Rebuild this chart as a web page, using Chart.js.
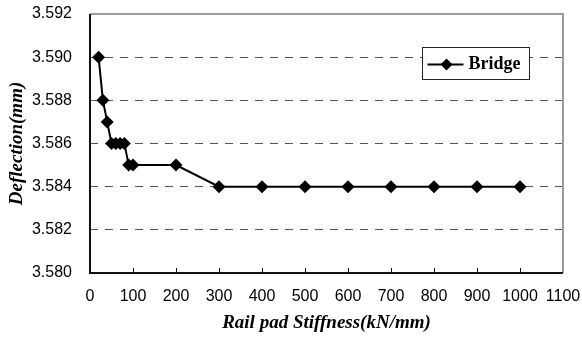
<!DOCTYPE html>
<html>
<head>
<meta charset="utf-8">
<script src="https://cdn.jsdelivr.net/npm/chart.js@4/dist/chart.umd.min.js"></script>
<style>
  html, body { margin: 0; padding: 0; background: #fff; }
  #wrap { width: 582px; height: 338px; }
</style>
</head>
<body>
<div id="wrap"><canvas id="c" width="582" height="338"></canvas></div>
<script>
// Rail pad stiffness (kN/mm) and the resulting bridge deflection (mm)
const stiffness = [20, 30, 40, 50, 60, 70, 80, 90, 100, 200, 300, 400, 500, 600, 700, 800, 900, 1000];
const deflection = [3.590, 3.588, 3.587, 3.586, 3.586, 3.586, 3.586, 3.585, 3.585, 3.585,
                    3.584, 3.584, 3.584, 3.584, 3.584, 3.584, 3.584, 3.584];
const seriesName = 'Bridge';
const xTitle = 'Rail pad Stiffness(kN/mm)';
const yTitle = 'Deflection(mm)';

const tickFont = { family: '"Liberation Sans", Arial, sans-serif', size: 16 };
const titleFont = { family: '"Liberation Serif", "Times New Roman", serif', size: 19, weight: 'bold', style: 'italic' };

// Frame (grey top/right, dark left/bottom), inner x ticks and the boxed legend
const framePlugin = {
  id: 'frame',
  beforeDatasetsDraw(chart) {
    const { ctx, chartArea: a, scales } = chart;
    ctx.save();
    ctx.setLineDash([]);
    ctx.strokeStyle = '#9a9a9a';
    ctx.lineWidth = 2;
    ctx.beginPath();
    ctx.moveTo(a.left, a.top); ctx.lineTo(a.right, a.top); ctx.lineTo(a.right, a.bottom);
    ctx.stroke();
    ctx.strokeStyle = '#111';
    ctx.lineWidth = 2;
    ctx.beginPath();
    ctx.moveTo(a.left, a.top); ctx.lineTo(a.left, a.bottom); ctx.lineTo(a.right, a.bottom);
    ctx.stroke();
    ctx.lineWidth = 1;
    scales.x.ticks.forEach(t => {
      if (t.value <= scales.x.min || t.value >= scales.x.max) return;
      const px = Math.round(scales.x.getPixelForValue(t.value)) + 0.5;
      ctx.beginPath();
      ctx.moveTo(px, a.bottom);
      ctx.lineTo(px, a.bottom - 5);
      ctx.stroke();
    });
    ctx.restore();
  },
  afterDatasetsDraw(chart) {
    const { ctx } = chart;
    const ds = chart.data.datasets[0];
    const bx = 422.5, by = 47.5, bw = 107, bh = 32;
    ctx.save();
    ctx.fillStyle = '#fff';
    ctx.fillRect(bx, by, bw, bh);
    ctx.strokeStyle = '#222';
    ctx.lineWidth = 1;
    ctx.strokeRect(bx, by, bw, bh);
    const cy = by + bh / 2 + 1;
    ctx.strokeStyle = '#000';
    ctx.lineWidth = 2;
    ctx.beginPath();
    ctx.moveTo(bx + 5, cy); ctx.lineTo(bx + 41, cy);
    ctx.stroke();
    const mx = bx + 24, r = 6;
    ctx.fillStyle = '#000';
    ctx.beginPath();
    ctx.moveTo(mx, cy - r); ctx.lineTo(mx + r, cy); ctx.lineTo(mx, cy + r); ctx.lineTo(mx - r, cy);
    ctx.closePath(); ctx.fill();
    ctx.font = 'bold 18px "Liberation Serif", "Times New Roman", serif';
    ctx.textBaseline = 'middle';
    ctx.fillText(ds.label, bx + 46, cy);
    ctx.restore();
  }
};

new Chart(document.getElementById('c'), {
  type: 'line',
  data: {
    datasets: [{
      label: seriesName,
      data: stiffness.map((x, i) => ({ x, y: deflection[i] })),
      borderColor: '#000',
      backgroundColor: '#000',
      borderWidth: 2,
      pointStyle: 'rectRot',
      pointRadius: 6.5,
      pointHoverRadius: 6.5,
      pointBorderWidth: 0,
      tension: 0
    }]
  },
  options: {
    responsive: false,
    animation: false,
    events: [],
    layout: { padding: { left: 0, top: 14, right: 19, bottom: 0 } },
    plugins: { legend: { display: false }, tooltip: { enabled: false } },
    scales: {
      x: {
        type: 'linear',
        min: 0, max: 1100,
        border: { display: false },
        grid: { display: false, drawTicks: false },
        ticks: {
          stepSize: 100, color: '#000', font: tickFont, padding: 14, maxRotation: 0, autoSkip: false,
          callback: v => String(v)
        },
        title: { display: true, text: xTitle, color: '#000', font: titleFont, padding: { top: 0, bottom: 4 } },
        afterFit(s) { s.height = 65; s.paddingLeft = 0; s.paddingRight = 0; }
      },
      y: {
        min: 3.580, max: 3.592,
        border: { display: false, dash: [8, 7] },
        grid: {
          drawTicks: false,
          color: c => (c.tick && (c.tick.value <= 3.5801 || c.tick.value >= 3.5919)) ? 'rgba(0,0,0,0)' : '#555',
          lineWidth: 1
        },
        ticks: {
          stepSize: 0.002, color: '#000', font: tickFont, padding: 18,
          callback: v => Number(v).toFixed(3)
        },
        title: { display: true, text: yTitle, color: '#000', font: titleFont, padding: { top: 6, bottom: 0 } },
        afterFit(s) { s.width = 90; s.paddingTop = 0; s.paddingBottom = 0; }
      }
    }
  },
  plugins: [framePlugin]
});
</script>
</body>
</html>
